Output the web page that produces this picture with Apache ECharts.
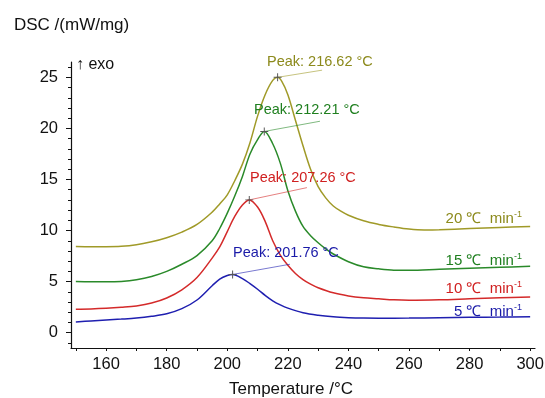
<!DOCTYPE html>
<html><head><meta charset="utf-8">
<script src="https://cdn.jsdelivr.net/npm/echarts@6/dist/echarts.min.js"></script>
<style>html,body{margin:0;padding:0;background:#fff}#c{width:545px;height:398px}</style>
</head><body><div id="c"></div>
<script>
// ---- data ----
const t20 = [150,155,160,165,170,175,180,185,190,195,197.5,200,202.5,205,207.5,210,212.5,215,216.62,218,220,222.5,225,227.5,230,232.5,235,237.5,240,245,250,255,260,265,270,280,290,300];
const v20 = [8.43,8.42,8.42,8.45,8.6,8.9,9.3,9.85,10.6,11.8,12.6,13.5,14.9,16.5,18.6,21.2,23.3,24.7,25.0,24.6,23.3,20.8,18.3,16.0,14.3,13.2,12.4,11.9,11.5,10.95,10.6,10.35,10.15,10.06,10.08,10.2,10.3,10.4];
const t15 = [150,155,160,165,170,175,180,185,190,195,197.5,200,202.5,205,207.5,210,212.21,215,217.5,220,222.5,225,227.5,230,232.5,235,240,245,250,255,260,270,280,290,300];
const v15 = [5.0,4.98,4.98,5.02,5.18,5.5,6.0,6.7,7.55,9.0,10.2,11.7,13.4,15.3,17.5,18.9,19.7,18.5,16.6,13.9,11.9,10.4,9.5,8.8,8.2,7.7,6.95,6.45,6.25,6.12,6.1,6.2,6.3,6.4,6.5];
const t10 = [150,155,160,165,170,175,180,185,190,195,197.5,200,202.5,205,207.26,210,212.5,215,217.5,220,222.5,225,227.5,230,235,240,245,250,255,260,270,280,290,300];
const v10 = [2.3,2.32,2.38,2.48,2.62,2.9,3.4,4.2,5.4,7.3,8.4,9.9,11.4,12.5,13.0,12.3,10.9,9.0,7.6,6.6,5.8,5.2,4.75,4.4,3.9,3.6,3.42,3.32,3.22,3.18,3.22,3.32,3.42,3.5];
const t5 = [150,155,160,165,170,175,180,185,190,195,197.5,200,201.76,205,207.5,210,212.5,215,217.5,220,225,230,235,240,245,250,260,270,280,290,300];
const v5 = [1.05,1.15,1.25,1.33,1.43,1.6,1.85,2.35,3.2,4.6,5.25,5.6,5.7,5.3,4.8,4.25,3.65,3.12,2.72,2.4,1.95,1.7,1.55,1.47,1.43,1.42,1.43,1.46,1.5,1.53,1.56];

const rates = ['20','15','10','5'];
const peakT = [216.62,212.21,207.26,201.76];
const peakV = [25.0,19.7,13.0,5.7];
const leaderEnd = [[231.3,25.7],[230.6,20.7],[226.3,14.2],[220.7,6.7]];
const peakLabelAt = [[213.1,26.5],[208.8,21.8],[207.5,15.1],[201.9,7.8]];
const rateLabelAt = [[297.3,11.1],[297.3,7.0],[297.3,4.3],[297.3,2.0]];
const xLabels = [160,180,200,220,240,260,280,300];
const xTicks = [150,160,170,180,190,200,210,220,230,240,250,260,270,280,290,300];
const yLabels = [0,5,10,15,20,25];
const yTicks = [-1,0,1,2,3,4,5,6,7,8,9,10,11,12,13,14,15,16,17,18,19,20,21,22,23,24,25,26];

const colors = ['#a09a28','#2a8a2a','#d42a2a','#1f1fb0'];
const textColors = ['#8c8a1c','#1f7f1f','#d02020','#1a1aa8'];
const FONT = '"Liberation Sans",Arial,sans-serif';

const tsets = [t20,t15,t10,t5], vsets = [v20,v15,v10,v5];
const cross = 'path://M0,4.4H10V5.6H0Z M4.4,0H5.6V10H4.4Z';

const series = rates.map((r,i)=>({
  type:'line', name:r+' ℃ min-1', xAxisIndex:0, yAxisIndex:0,
  data: tsets[i].map((t,j)=>[t, vsets[i][j]]),
  showSymbol:false, smooth:0.35, silent:true,
  lineStyle:{color:colors[i], width:1.5}, itemStyle:{color:colors[i]},
  markLine:{silent:true, symbol:'none', animation:false,
    lineStyle:{color:colors[i], width:0.8, type:'solid', opacity:0.75},
    label:{show:false},
    data:[[{coord:[peakT[i],peakV[i]]},{coord:leaderEnd[i]}]]},
  markPoint:{silent:true, animation:false, data:[
    {coord:[peakT[i],peakV[i]], symbol:cross, symbolSize:8, itemStyle:{color:'#555'}, label:{show:false}},
    {coord:peakLabelAt[i], symbol:'circle', symbolSize:0.1,
      label:{show:true, position:'right', distance:0, formatter:'Peak: '+peakT[i].toFixed(2)+' °C',
        color:textColors[i], fontSize:14.5, fontFamily:FONT}},
    {coord:rateLabelAt[i], symbol:'circle', symbolSize:0.1,
      label:{show:true, position:'left', distance:0, formatter:'{a|'+r+' ℃  min}{s|-1}',
        rich:{a:{color:textColors[i], fontSize:15, fontFamily:FONT},
              s:{color:textColors[i], fontSize:9, fontFamily:FONT, verticalAlign:'top', padding:[0,0,9,0]}}}}
  ]}
}));

const chart = echarts.init(document.getElementById('c'), null, {renderer:'canvas'});
chart.setOption({
  animation:false,
  backgroundColor:'#fff',
  title:{text:'DSC /(mW/mg)', left:9, top:12, textStyle:{fontSize:17, fontWeight:'normal', color:'#111', fontFamily:FONT}},
  graphic:[{type:'text', left:76, top:57, style:{text:'↑ exo', fontSize:16, fill:'#111', fontFamily:FONT}}],
  grid:{left:71, right:10, top:62, bottom:50, outerBoundsMode:'none', containLabel:false},
  xAxis:[{type:'value', min:148.4, max:301.6,
    name:'Temperature /°C', nameLocation:'middle', nameGap:33,
    nameTextStyle:{fontSize:17, color:'#111', fontFamily:FONT, padding:[0,24,0,0]},
    axisLine:{onZero:false, lineStyle:{color:'#111', width:1.2}},
    axisTick:{show:true, length:3, customValues:xTicks, lineStyle:{color:'#111'}},
    axisLabel:{customValues:xLabels, margin:8, fontSize:16.5, color:'#111', fontFamily:FONT},
    splitLine:{show:false}}],
  yAxis:[{type:'value', min:-1.5, max:26.5,
    axisLine:{onZero:false, lineStyle:{color:'#111', width:1.2}},
    axisTick:{show:true, length:3, customValues:yTicks, lineStyle:{color:'#111'}},
    axisLabel:{customValues:yLabels, margin:13, fontSize:16.5, color:'#111', fontFamily:FONT},
    splitLine:{show:false}},
   {type:'value', min:-1.5, max:26.5, position:'left',
    axisLine:{show:false},
    axisTick:{show:true, length:5, customValues:yLabels, lineStyle:{color:'#111'}},
    axisLabel:{show:false}, splitLine:{show:false}}],
  series: series
});
</script></body></html>
